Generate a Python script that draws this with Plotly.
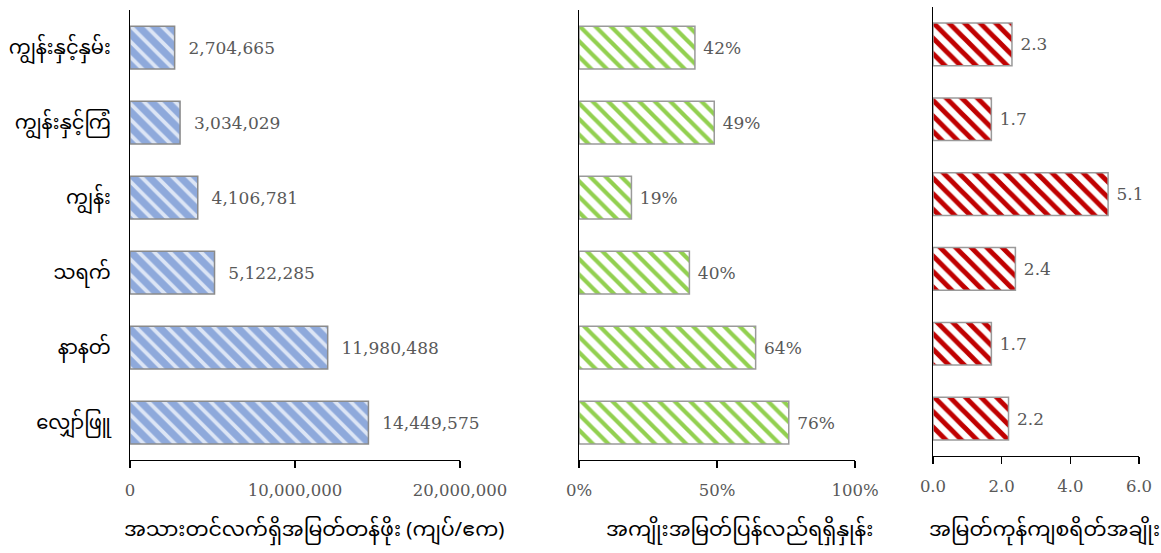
import plotly.graph_objects as go

categories = ["ကျွန်းနှင့်နှမ်း", "ကျွန်းနှင့်ကြံ", "ကျွန်း", "သရက်", "နာနတ်", "လျှော်ဖြူ"]
npv_values = [2704665, 3034029, 4106781, 5122285, 11980488, 14449575]
irr_values = [0.42, 0.49, 0.19, 0.40, 0.64, 0.76]
bcr_values = [2.3, 1.7, 5.1, 2.4, 1.7, 2.2]

npv_title = "အသားတင်လက်ရှိအမြတ်တန်ဖိုး (ကျပ်/ဧက)"
irr_title = "အကျိုးအမြတ်ပြန်လည်ရရှိနှုန်း"
bcr_title = "အမြတ်ကုန်ကျစရိတ်အချိုး"

npv_ticks = [0, 10000000, 20000000]
irr_ticks = [0, 0.5, 1.0]
bcr_ticks = [0, 2, 4, 6]

W, H = 1161, 553
MY_FONT = "Noto Sans Myanmar, Padauk, Myanmar Text, Noto Sans, sans-serif"
NUM_FONT = "DejaVu Serif, serif"
GRAY = "#595959"
NB = "\u00a0"

def xd(a, b):
    return [a / W, b / W]

def yd(top, bottom):
    return [(H - bottom) / H, (H - top) / H]

fig = go.Figure()

common = dict(orientation="h", width=0.57, textposition="outside", cliponaxis=False,
              textfont=dict(family=NUM_FONT, size=17, color=GRAY), hoverinfo="skip")

fig.add_trace(go.Bar(
    x=npv_values, y=categories, xaxis="x", yaxis="y",
    texttemplate=NB + NB + "%{x:,}",
    marker=dict(color="#8EA9DB", line=dict(color="#8a8a8a", width=1.5),
                pattern=dict(shape="\\", bgcolor="#8EA9DB", fgcolor="#DCE5F5",
                             size=11, solidity=0.35, fillmode="replace")),
    **common))

fig.add_trace(go.Bar(
    x=irr_values, y=categories, xaxis="x2", yaxis="y2",
    texttemplate=NB + "%{x:.0%}",
    marker=dict(color="#92D050", line=dict(color="#9a9a9a", width=1.5),
                pattern=dict(shape="\\", bgcolor="white", fgcolor="#92D050",
                             size=11, solidity=0.38, fillmode="replace")),
    **common))

fig.add_trace(go.Bar(
    x=bcr_values, y=categories, xaxis="x3", yaxis="y3",
    texttemplate=NB + "%{x:.1f}",
    marker=dict(color="#C00000", line=dict(color="#9a9a9a", width=1.5),
                pattern=dict(shape="\\", bgcolor="white", fgcolor="#C00000",
                             size=11, solidity=0.45, fillmode="replace")),
    **common))

xcommon = dict(showline=True, linecolor="black", linewidth=1.3, ticks="outside",
               ticklen=7, tickcolor="black", tickwidth=1.3, showgrid=False, zeroline=False,
               tickfont=dict(family=NUM_FONT, size=16.5, color=GRAY),
               ticklabelstandoff=8, fixedrange=True, automargin=False)
ycommon = dict(showline=True, linecolor="black", linewidth=1.3, ticks="", showgrid=False,
               autorange="reversed", type="category", fixedrange=True, automargin=False)
title_font = dict(family=MY_FONT, size=20.5, color="black")

titles = [(npv_title, 314), (irr_title, 739), (bcr_title, 1044)]
annotations = [dict(text=t, x=cx / W, y=(H - 531) / H, xref="paper", yref="paper",
                    xanchor="center", yanchor="middle", showarrow=False, font=title_font)
               for t, cx in titles]

fig.update_layout(
    template="none",
    width=W, height=H, margin=dict(l=0, r=0, t=0, b=0, pad=0),
    paper_bgcolor="white", plot_bgcolor="white", showlegend=False, bargap=0.43,
    annotations=annotations,
    xaxis=dict(domain=xd(130, 460), range=[0, 20000000], tickvals=npv_ticks,
               tickformat=",", anchor="y", **xcommon),
    yaxis=dict(domain=yd(10, 460), anchor="x", ticklabelstandoff=14,
               tickfont=dict(family=MY_FONT, size=19.5, color="black"), **ycommon),
    xaxis2=dict(domain=xd(579, 855), range=[0, 1], tickvals=irr_ticks,
                tickformat=".0%", anchor="y2", **xcommon),
    yaxis2=dict(domain=yd(10, 460), anchor="x2", showticklabels=False, **ycommon),
    xaxis3=dict(domain=xd(933, 1139), range=[0, 6], tickvals=bcr_ticks,
                tickformat=".1f", anchor="y3", **xcommon),
    yaxis3=dict(domain=yd(7, 456), anchor="x3", showticklabels=False, **ycommon),
)

fig.write_html("out.html", config={"displayModeBar": False, "staticPlot": True},
               post_script="document.body.style.margin='0';document.body.style.overflow='hidden';")
